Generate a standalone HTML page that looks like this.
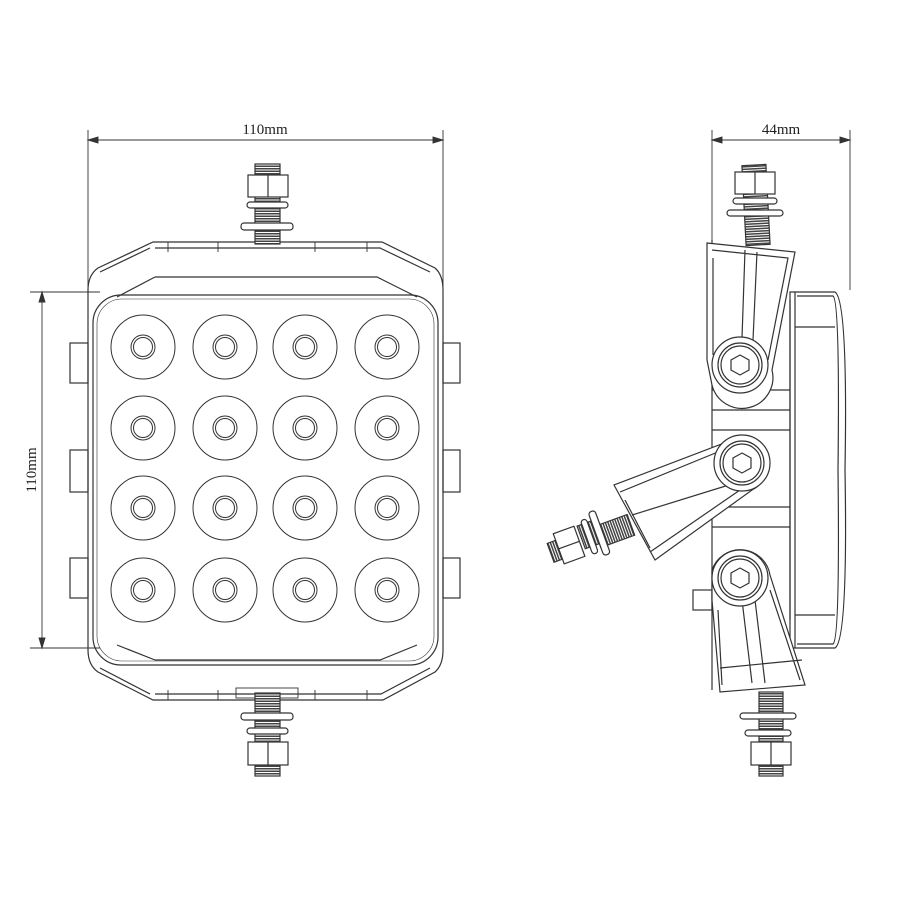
<!DOCTYPE html>
<html><head><style>body{margin:0;background:#fff}svg{display:block}</style></head>
<body>
<svg width="900" height="900" viewBox="0 0 900 900" xmlns="http://www.w3.org/2000/svg" fill="none" stroke="#333" stroke-width="1.2">
<g stroke-width="0.9">
<line x1="88" y1="130" x2="88" y2="290"/><line x1="443" y1="130" x2="443" y2="290"/>
<line x1="88" y1="140" x2="443" y2="140"/>
<path d="M88 140 l10 -3 v6z M443 140 l-10 -3 v6z" fill="#333"/>
<line x1="30" y1="292" x2="100" y2="292"/><line x1="30" y1="648" x2="100" y2="648"/>
<line x1="42" y1="292" x2="42" y2="648"/>
<path d="M42 292 l-3 10 h6z M42 648 l-3 -10 h6z" fill="#333"/>
<line x1="712" y1="130" x2="712" y2="240"/><line x1="850" y1="130" x2="850" y2="290"/>
<line x1="712" y1="140" x2="850" y2="140"/>
<path d="M712 140 l10 -3 v6z M850 140 l-10 -3 v6z" fill="#333"/>
</g>
<g font-family="Liberation Serif, serif" font-size="15" fill="#222" stroke="none">
<text x="265" y="134" text-anchor="middle">110mm</text>
<text x="781" y="134" text-anchor="middle">44mm</text>
<text transform="translate(36,470) rotate(-90)" text-anchor="middle">110mm</text>
</g>
<path d="M153 242 H382 L435 268 Q443 275 443 290 V650 Q443 665 435 672 L383 700 H153 L98 672 Q88 665 88 650 V290 Q88 275 98 268 Z"/>
<path d="M155 248 H380 L430 272 M155 694 H381 L430 668 M150 248 L100 272 M150 694 L100 668"/>
<path d="M155 277 H377 L417 297 M117 297 L155 277 M155 660 H380 L417 645 M117 645 L155 660"/>
<rect x="93" y="295" width="345" height="370" rx="28"/>
<rect x="97" y="299" width="337" height="362" rx="25" stroke-width="0.6"/>
<g stroke-width="0.9">
<line x1="168" y1="242" x2="168" y2="252"/><line x1="218" y1="242" x2="218" y2="252"/><line x1="315" y1="242" x2="315" y2="252"/><line x1="367" y1="242" x2="367" y2="252"/>
<line x1="168" y1="690" x2="168" y2="700"/><line x1="218" y1="690" x2="218" y2="700"/><line x1="315" y1="690" x2="315" y2="700"/><line x1="367" y1="690" x2="367" y2="700"/>
<rect x="236" y="688" width="62" height="10"/>
</g>
<g>
<rect x="70" y="343" width="18" height="40"/><rect x="70" y="450" width="18" height="42"/><rect x="70" y="558" width="18" height="40"/>
<rect x="443" y="343" width="17" height="40"/><rect x="443" y="450" width="17" height="42"/><rect x="443" y="558" width="17" height="40"/>
</g>
<g stroke-width="1">
<g transform="translate(143,347)"><circle r="32"/><circle r="12"/><circle r="9.5"/></g>
<g transform="translate(225,347)"><circle r="32"/><circle r="12"/><circle r="9.5"/></g>
<g transform="translate(305,347)"><circle r="32"/><circle r="12"/><circle r="9.5"/></g>
<g transform="translate(387,347)"><circle r="32"/><circle r="12"/><circle r="9.5"/></g>
<g transform="translate(143,428)"><circle r="32"/><circle r="12"/><circle r="9.5"/></g>
<g transform="translate(225,428)"><circle r="32"/><circle r="12"/><circle r="9.5"/></g>
<g transform="translate(305,428)"><circle r="32"/><circle r="12"/><circle r="9.5"/></g>
<g transform="translate(387,428)"><circle r="32"/><circle r="12"/><circle r="9.5"/></g>
<g transform="translate(143,508)"><circle r="32"/><circle r="12"/><circle r="9.5"/></g>
<g transform="translate(225,508)"><circle r="32"/><circle r="12"/><circle r="9.5"/></g>
<g transform="translate(305,508)"><circle r="32"/><circle r="12"/><circle r="9.5"/></g>
<g transform="translate(387,508)"><circle r="32"/><circle r="12"/><circle r="9.5"/></g>
<g transform="translate(143,590)"><circle r="32"/><circle r="12"/><circle r="9.5"/></g>
<g transform="translate(225,590)"><circle r="32"/><circle r="12"/><circle r="9.5"/></g>
<g transform="translate(305,590)"><circle r="32"/><circle r="12"/><circle r="9.5"/></g>
<g transform="translate(387,590)"><circle r="32"/><circle r="12"/><circle r="9.5"/></g>
</g>
<defs>
<pattern id="thr" width="4" height="2.5" patternUnits="userSpaceOnUse"><rect width="4" height="2.5" fill="#fff" stroke="none"/><line x1="0" y1="1.25" x2="4" y2="1.25" stroke="#444" stroke-width="1.5"/></pattern>
<pattern id="thrv" width="2.5" height="4" patternUnits="userSpaceOnUse"><rect width="2.5" height="4" fill="#fff" stroke="none"/><line x1="1.25" y1="0" x2="1.25" y2="4" stroke="#444" stroke-width="1.5"/></pattern>
</defs>
<g>
<rect x="255" y="164" width="25" height="80" fill="url(#thr)"/>
<rect x="248" y="175" width="40" height="22" fill="#fff"/><line x1="268" y1="175" x2="268" y2="197"/>
<rect x="247" y="202" width="41" height="6" rx="3" fill="#fff"/>
<rect x="241" y="223" width="52" height="7" rx="3" fill="#fff"/>
<rect x="255" y="693" width="25" height="83" fill="url(#thr)"/>
<rect x="241" y="713" width="52" height="7" rx="3" fill="#fff"/>
<rect x="247" y="728" width="41" height="6" rx="3" fill="#fff"/>
<rect x="248" y="742" width="40" height="23" fill="#fff"/><line x1="268" y1="742" x2="268" y2="765"/>
</g>
<g>
<path d="M790 292 H835 Q848 300 845 470 Q848 640 835 648 H790 Z"/>
<path d="M797 296 H833 Q840 300 838 470 Q840 640 833 644 H797"/>
<line x1="795" y1="292" x2="795" y2="648"/>
<line x1="795" y1="327" x2="835" y2="327"/><line x1="795" y1="615" x2="835" y2="615"/>
<path d="M712 240 V690 M712 390 H790 V620 M712 410 H790 M712 430 H790 M712 507 H790 M712 527 H790 M790 300 V390"/>
<rect x="693" y="590" width="19" height="20"/>
<path d="M707 243 L795 252 L772 370 A30 30 0 0 1 712 385 L707 360 Z" fill="#fff"/>
<path d="M712 250 L788 258 L768 360 M713 258 L713 355 M745 250 L742 338 M757 252 L753 340"/>
<circle cx="740" cy="365" r="28" fill="#fff"/><circle cx="740" cy="365" r="22"/><circle cx="740" cy="365" r="19"/>
<path d="M740 355 l9 5 v10 l-9 5 l-9 -5 v-10z"/>
<path d="M740 437 A28 28 0 0 1 752 490 L655 560 L614 485 Z" fill="#fff"/>
<path d="M620 492 L735 445 M632 515 L745 480 M650 552 L740 490 M625 500 L650 548"/>
<circle cx="742" cy="463" r="28" fill="#fff"/><circle cx="742" cy="463" r="22"/><circle cx="742" cy="463" r="19"/>
<path d="M742 453 l9 5 v10 l-9 5 l-9 -5 v-10z"/>
<rect x="596" y="520" width="36" height="22" fill="url(#thrv)" transform="rotate(-20 614 531)"/>
<g transform="rotate(-20 580 540)">
<rect x="548" y="532" width="10" height="20" fill="url(#thrv)"/>
<rect x="557" y="525" width="22" height="32" fill="#fff"/><line x1="557" y1="541" x2="579" y2="541"/>
<rect x="582" y="526" width="20" height="24" fill="url(#thrv)"/>
<rect x="587" y="522" width="6" height="36" rx="3" fill="#fff"/>
<rect x="597" y="517" width="7" height="46" rx="3" fill="#fff"/>
</g>
<path d="M712 570 A30 30 0 0 1 770 575 L805 685 L720 692 L712 600 Z" fill="#fff"/>
<path d="M718 610 L722 685 M742 600 L752 683 M755 600 L765 683 M770 590 L800 680 M720 668 L802 660"/>
<circle cx="740" cy="578" r="28" fill="#fff"/><circle cx="740" cy="578" r="22"/><circle cx="740" cy="578" r="19"/>
<path d="M740 568 l9 5 v10 l-9 5 l-9 -5 v-10z"/>
<rect x="744" y="165" width="24" height="80" fill="url(#thr)" transform="rotate(-3 756 205)"/>
<rect x="735" y="172" width="40" height="22" fill="#fff"/><line x1="755" y1="172" x2="755" y2="194"/>
<rect x="733" y="198" width="44" height="6" rx="3" fill="#fff"/>
<rect x="727" y="210" width="56" height="6" rx="3" fill="#fff"/>
<rect x="759" y="692" width="24" height="84" fill="url(#thr)"/>
<rect x="740" y="713" width="56" height="6" rx="3" fill="#fff"/>
<rect x="745" y="730" width="46" height="6" rx="3" fill="#fff"/>
<rect x="751" y="742" width="40" height="23" fill="#fff"/><line x1="771" y1="742" x2="771" y2="765"/>
</g>
</svg>
</body></html>
